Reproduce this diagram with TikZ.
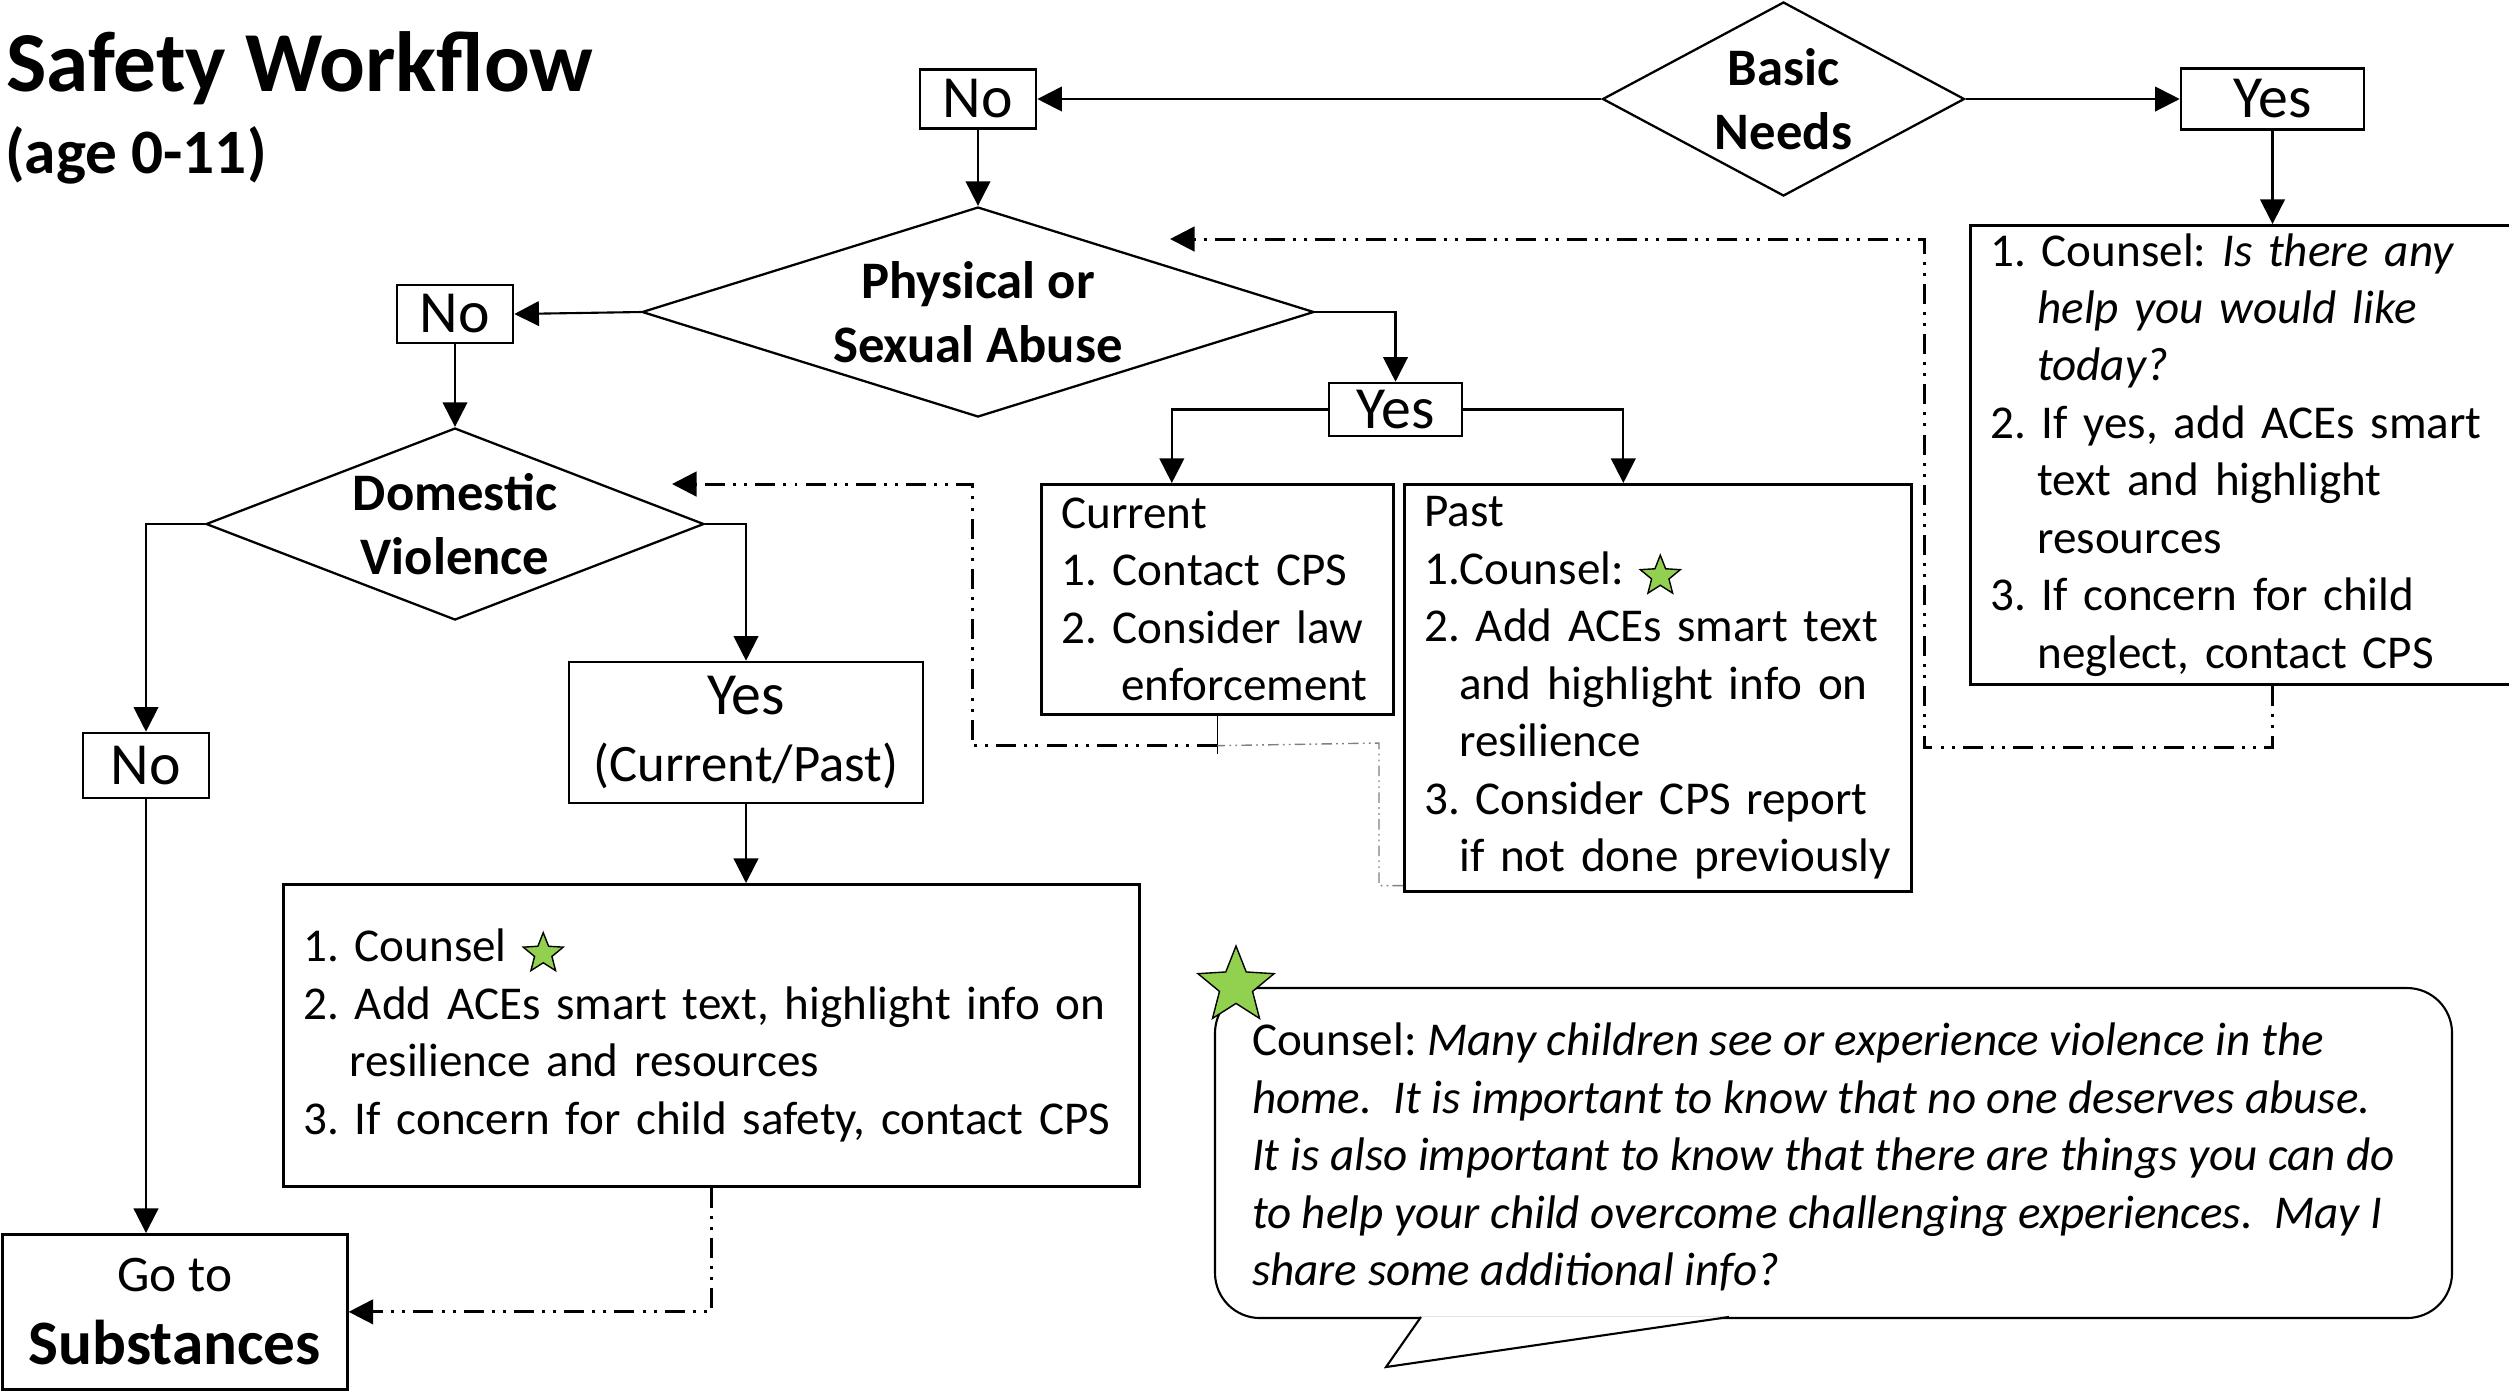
\documentclass[tikz,border=0pt]{standalone}
\usepackage{fontspec}
\setmainfont{Carlito}
\usetikzlibrary{arrows.meta,shapes.geometric}
\definecolor{leafgreen}{RGB}{146,208,80}
\tikzset{gstar/.style={star,star points=5,star point ratio=2.3,draw,fill=leafgreen,
  inner sep=0pt,line width=0.4pt}}
\newcommand{\cstar}[1]{\tikz[baseline=-0.16cm]\node[gstar,minimum size=0.42cm] (#1) {};}
\frenchspacing

\begin{document}
\begin{tikzpicture}[x=1cm,y=-1cm,semithick,
  bodytext/.style={font=\fontsize{13.4}{16.35}\selectfont},
  ask/.style={diamond,draw,line width=0.65pt,inner sep=0pt,align=center,
    font=\bfseries\fontsize{15}{18.3}\selectfont},
  answer/.style={draw,line width=0.75pt,inner sep=0pt,align=center,
    font=\fontsize{17}{20}\selectfont},
  listbox/.style={draw,line width=0.75pt,anchor=north west,align=left,
    inner xsep=0.2cm,inner ysep=0pt,bodytext},
  flow/.style={-{Triangle[length=7pt,width=7pt]}},
  dashdot/.style={dash pattern=on 5.7pt off 2.3pt on 0.85pt off 2.3pt on 0.85pt off 2.3pt},
  loopback/.style={flow,dashdot,line width=0.85pt}]
\useasboundingbox (0,0) rectangle (25.09,13.90);

\node[anchor=base west,inner sep=0pt,font=\bfseries\fontsize{24.3}{28}\selectfont]
  (title) at (0.05,0.91) {Safety Workflow};
\node[anchor=base west,inner sep=0pt,font=\bfseries\fontsize{18}{22}\selectfont]
  (age) at (0.04,1.73) {(age 0-11)};

\node[ask,aspect=1.87,minimum width=3.62cm,minimum height=1.94cm] (basic) at (17.835,0.99) {Basic\\Needs};
\node[answer,minimum width=1.16cm,minimum height=0.59cm] (noA) at (9.78,0.99) {No};
\node[answer,minimum width=1.83cm,minimum height=0.61cm] (yesA) at (22.725,0.99) {Yes};
\node[listbox,minimum width=5.5cm,minimum height=4.59cm,text width=5.1cm] (helpbox) at (19.69,2.24)
  {1. Counsel: \textit{Is there any}\\\hspace*{0.47cm}\textit{help you would like}\\
   \hspace*{0.47cm}\textit{today?}\\2. If yes, add ACEs smart\\\hspace*{0.47cm}text and highlight\\
   \hspace*{0.47cm}resources\\3. If concern for child\\\hspace*{0.47cm}neglect, contact CPS};

\node[ask,aspect=3.2,minimum width=6.72cm,minimum height=2.10cm] (abuse) at (9.78,3.12) {Physical or\\Sexual Abuse};
\node[answer,minimum width=1.16cm,minimum height=0.58cm] (noB) at (4.55,3.14) {No};
\node[answer,minimum width=1.33cm,minimum height=0.53cm] (yesB) at (13.955,4.095) {Yes};
\node[listbox,minimum width=3.49cm,minimum height=2.30cm,text width=3.12cm] (current) at (10.40,4.83)
  {Current\\1. Contact CPS\\2. Consider law\\\hspace*{0.6cm}enforcement};
\node[listbox,minimum width=5.07cm,minimum height=4.07cm,text width=4.67cm] (past) at (14.03,4.83)
  {Past\\1.Counsel: \cstar{pstar}\\2. Add ACEs smart text\\\hspace*{0.35cm}and highlight info on\\
   \hspace*{0.35cm}resilience\\3. Consider CPS report\\\hspace*{0.35cm}if not done previously};

\node[ask,aspect=2.6,minimum width=4.98cm,minimum height=1.92cm] (dv) at (4.55,5.24) {Domestic\\Violence};
\node[answer,minimum width=1.26cm,minimum height=0.65cm] (noC) at (1.46,7.655) {No};
\node[answer,minimum width=3.54cm,minimum height=1.41cm,font=\fontsize{15}{19.3}\selectfont]
  (yesC) at (7.46,7.325) {{\fontsize{17}{20}\selectfont Yes}\\(Current/Past)};
\node[listbox,minimum width=8.56cm,minimum height=3.02cm,text width=8.16cm] (dvcounsel) at (2.82,8.83)
  {1. Counsel \cstar{dstar}\\2. Add ACEs smart text, highlight info on\\
   \hspace*{0.46cm}resilience and resources\\3. If concern for child safety, contact CPS};
\node[answer,anchor=north west,minimum width=3.45cm,minimum height=1.55cm,
  font=\fontsize{14.6}{20.8}\selectfont] (substances) at (0.01,12.33)
  {Go to\\{\bfseries\fontsize{18}{20.8}\selectfont Substances}};

\node[draw,rounded corners=0.45cm,minimum width=12.37cm,minimum height=3.30cm,inner sep=0pt]
  (bubble) at (18.335,11.53) {};
\node[bodytext,anchor=west,align=left,inner sep=0pt] (bubbletext) at ([xshift=0.37cm,yshift=-0.04cm]bubble.west)
  {Counsel: \textit{Many children see or experience violence in the}\\
   \textit{home.~ It is important to know that no one deserves abuse.}\\
   \textit{It is also important to know that there are things you can do}\\
   \textit{to help your child overcome challenging experiences.~ May I}\\
   \textit{share some additional info?}};
\coordinate (tip) at (13.86,13.67);
\draw[fill=white] ([xshift=2.07cm,yshift=0.6pt]bubble.south west) -- (tip)
  -- ([xshift=5.15cm,yshift=0.6pt]bubble.south west);
\node[gstar,minimum size=0.8cm] (bigstar) at (12.36,9.86) {};

\coordinate (abuseback) at (11.70,2.39);
\coordinate (dvback) at (6.72,4.84);
\coordinate (join) at ([yshift=-0.30cm]current.south);

\draw[flow] (basic.west) -- (noA.east);
\draw[flow] (basic.east) -- (yesA.west);
\draw[flow] (yesA.south) -- (yesA.south |- helpbox.north);
\draw[flow] (noA.south) -- (abuse.north);
\draw[flow] (abuse.west) -- (noB.east);
\draw[flow] (noB.south) -- (dv.north);
\draw[flow] (abuse.east) -| (yesB.north);
\draw[flow] (yesB.west) -| ([xshift=-0.455cm]current.north);
\draw[flow] (yesB.east) -| ([xshift=-0.345cm]past.north);
\draw[flow] (dv.west) -| (noC.north);
\draw[flow] (dv.east) -| (yesC.north);
\draw[flow] (yesC.south) -- (yesC.south |- dvcounsel.north);
\draw[flow] (noC.south) -- (noC.south |- substances.north);
\draw[loopback] (dvcounsel.south) |- (substances.east);
\draw[loopback] (yesA.south |- helpbox.south) -- ++(0,0.62) -| (19.24,2.39) -- (abuseback);
\draw[thin] (current.south) -- ([yshift=-0.38cm]current.south);
\draw[loopback] (join) -| (9.72,4.84) -- (dvback);
\draw[thin,gray,dash pattern=on 3pt off 1.2pt on 0.5pt off 1.2pt on 0.5pt off 1.2pt]
  ([yshift=0.07cm]past.south west) -| (13.79,7.43) -- (join);
\end{tikzpicture}
\end{document}
